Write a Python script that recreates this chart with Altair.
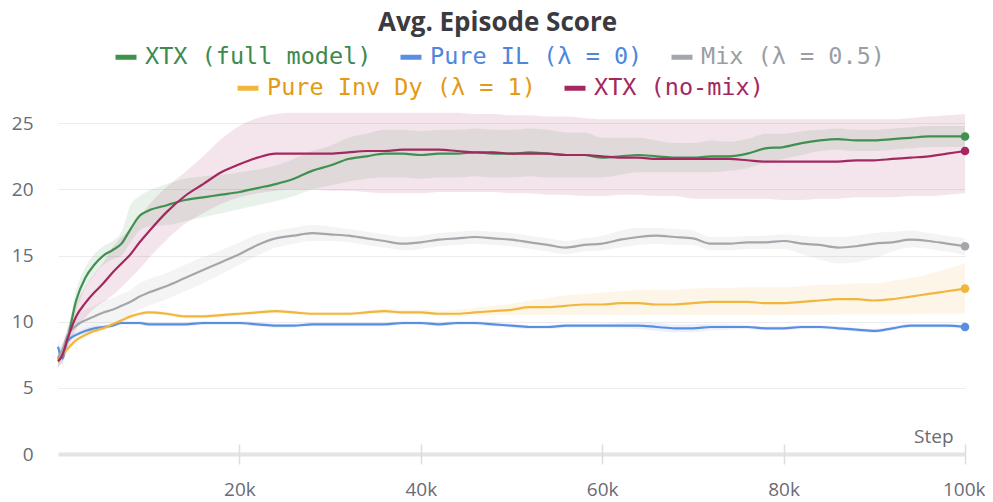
import altair as alt
import pandas as pd

# ---------------- data ----------------
steps_k = [0, 0.5, 1, 2, 3, 4, 5, 6, 7, 8, 9, 10,
           12, 14, 16, 18, 20, 22, 24, 26, 28, 30,
           32, 34, 36, 38, 40, 42, 44, 46, 48, 50,
           52, 54, 56, 58, 60, 62, 64, 66, 68, 70,
           72, 74, 76, 78, 80, 82, 84, 86, 88, 90,
           92, 94, 96, 98, 100]

series_names = ["XTX (full model)", "Pure IL (λ = 0)", "Mix (λ = 0.5)",
                "Pure Inv Dy (λ = 1)", "XTX (no-mix)"]
line_colors = ["#3f9150", "#5a8ee0", "#a3a7ab", "#efb73e", "#a3285f"]
label_colors = ["#3d8a50", "#4f86dc", "#9a9ea4", "#e39a14", "#a3285f"]

green_mean = [7.2, 7.8, 8.6, 11.6, 13.3, 14.3, 15.0, 15.4, 15.9, 17.0, 18.0, 18.4,
              18.8, 19.2, 19.4, 19.6, 19.8, 20.1, 20.4, 20.8, 21.4, 21.8,
              22.3, 22.5, 22.7, 22.7, 22.6, 22.7, 22.7, 22.8, 22.7, 22.7,
              22.8, 22.7, 22.6, 22.6, 22.4, 22.5, 22.6, 22.5, 22.4, 22.4,
              22.5, 22.5, 22.7, 23.1, 23.2, 23.5, 23.7, 23.8, 23.7, 23.7,
              23.8, 23.9, 24.0, 24.0, 24.0]
green_lo = [6.6, 7.3, 8.0, 10.8, 12.5, 13.5, 14.3, 14.7, 15.0, 16.0, 16.9, 17.2,
            17.3, 17.6, 17.9, 18.2, 18.5, 18.8, 19.1, 19.5, 20.0, 20.3,
            20.6, 20.8, 20.9, 20.9, 20.8, 20.9, 20.9, 21.0, 20.9, 20.9,
            21.0, 20.9, 20.9, 20.9, 20.9, 21.1, 21.3, 21.3, 21.3, 21.3,
            21.3, 21.4, 21.6, 22.0, 22.3, 22.6, 22.9, 23.0, 22.9, 22.9,
            23.0, 23.1, 23.2, 23.2, 23.2]
green_hi = [7.8, 8.3, 9.2, 12.4, 14.1, 15.1, 15.7, 16.1, 16.8, 18.8, 19.5, 19.9,
            20.4, 20.8, 21.0, 21.1, 21.3, 21.5, 21.8, 22.3, 22.9, 23.3,
            23.9, 24.2, 24.5, 24.5, 24.4, 24.5, 24.5, 24.6, 24.5, 24.5,
            24.6, 24.5, 24.3, 24.3, 23.9, 23.9, 23.9, 23.7, 23.5, 23.5,
            23.7, 23.6, 23.8, 24.2, 24.2, 24.4, 24.5, 24.6, 24.5, 24.5,
            24.6, 24.7, 24.8, 24.8, 24.8]

blue_mean = [8.1, 7.2, 8.5, 9.0, 9.3, 9.5, 9.6, 9.7, 9.9, 9.9, 9.9, 9.8,
             9.8, 9.8, 9.9, 9.9, 9.9, 9.8, 9.7, 9.7, 9.8, 9.8,
             9.8, 9.8, 9.8, 9.9, 9.9, 9.8, 9.9, 9.9, 9.8, 9.7,
             9.6, 9.6, 9.7, 9.7, 9.7, 9.7, 9.7, 9.6, 9.5, 9.5,
             9.6, 9.6, 9.6, 9.5, 9.5, 9.6, 9.6, 9.5, 9.4, 9.3,
             9.5, 9.7, 9.7, 9.7, 9.6]
blue_lo = [7.6, 6.7, 8.1, 8.8, 9.1, 9.3, 9.45, 9.55, 9.75, 9.75, 9.75, 9.65,
           9.65, 9.65, 9.75, 9.75, 9.75, 9.65, 9.55, 9.55, 9.65, 9.65,
           9.65, 9.65, 9.65, 9.75, 9.75, 9.65, 9.75, 9.75, 9.65, 9.55,
           9.45, 9.45, 9.55, 9.55, 9.55, 9.5, 9.45, 9.3, 9.2, 9.2,
           9.35, 9.4, 9.45, 9.35, 9.35, 9.45, 9.45, 9.35, 9.25, 9.15,
           9.35, 9.55, 9.55, 9.55, 9.45]
blue_hi = [8.6, 7.7, 8.9, 9.2, 9.5, 9.7, 9.75, 9.85, 10.05, 10.05, 10.05, 9.95,
           9.95, 9.95, 10.05, 10.05, 10.05, 9.95, 9.85, 9.85, 9.95, 9.95,
           9.95, 9.95, 9.95, 10.05, 10.05, 9.95, 10.05, 10.05, 9.95, 9.85,
           9.75, 9.75, 9.85, 9.85, 9.85, 9.9, 9.95, 9.9, 9.8, 9.8,
           9.85, 9.8, 9.75, 9.65, 9.65, 9.75, 9.75, 9.65, 9.55, 9.45,
           9.65, 9.85, 9.85, 9.85, 9.75]

gray_mean = [7.3, 7.9, 8.9, 9.7, 10.1, 10.4, 10.7, 10.9, 11.2, 11.5, 11.9, 12.2,
             12.7, 13.3, 13.9, 14.5, 15.1, 15.8, 16.3, 16.5, 16.7, 16.6,
             16.5, 16.3, 16.1, 15.9, 16.0, 16.2, 16.3, 16.4, 16.3, 16.2,
             16.0, 15.8, 15.6, 15.8, 15.9, 16.2, 16.4, 16.5, 16.4, 16.3,
             15.9, 15.9, 16.0, 16.0, 16.1, 15.9, 15.8, 15.6, 15.7, 15.9,
             16.0, 16.2, 16.1, 15.9, 15.7]
gray_lo = [6.8, 7.4, 8.3, 9.0, 9.3, 9.6, 9.8, 10.0, 10.3, 10.6, 10.9, 11.2,
           11.7, 12.3, 12.9, 13.6, 14.3, 15.0, 15.6, 15.9, 16.1, 16.1,
           16.0, 15.8, 15.6, 15.4, 15.5, 15.7, 15.8, 15.9, 15.8, 15.7,
           15.5, 15.3, 15.1, 15.3, 15.4, 15.6, 15.8, 15.9, 15.8, 15.8,
           15.4, 15.4, 15.5, 15.5, 15.5, 15.1, 14.7, 14.4, 14.5, 14.8,
           15.3, 15.6, 15.5, 15.3, 15.0]
gray_hi = [7.8, 8.4, 9.5, 10.4, 10.9, 11.2, 11.6, 11.8, 12.1, 12.4, 12.9, 13.2,
           13.7, 14.3, 14.9, 15.4, 16.0, 16.6, 16.9, 17.1, 17.3, 17.2,
           17.0, 16.8, 16.6, 16.4, 16.5, 16.7, 16.8, 16.9, 16.8, 16.7,
           16.5, 16.3, 16.1, 16.3, 16.5, 16.9, 17.1, 17.1, 17.0, 16.9,
           16.4, 16.4, 16.5, 16.5, 16.6, 16.5, 16.4, 16.4, 16.5, 16.7,
           16.8, 16.9, 16.7, 16.5, 16.3]

yellow_mean = [7.1, 7.5, 7.9, 8.6, 9.0, 9.3, 9.5, 9.8, 10.1, 10.4, 10.6, 10.7,
               10.6, 10.4, 10.4, 10.5, 10.6, 10.7, 10.8, 10.7, 10.6, 10.6,
               10.6, 10.7, 10.8, 10.7, 10.7, 10.6, 10.6, 10.7, 10.8, 10.9,
               11.1, 11.1, 11.2, 11.3, 11.3, 11.4, 11.4, 11.3, 11.3, 11.4,
               11.5, 11.5, 11.5, 11.4, 11.4, 11.5, 11.6, 11.7, 11.7, 11.6,
               11.7, 11.9, 12.1, 12.3, 12.5]
yellow_lo = [6.6, 7.1, 7.6, 8.4, 8.8, 9.1, 9.3, 9.6, 9.9, 10.2, 10.45, 10.55,
             10.45, 10.25, 10.25, 10.35, 10.45, 10.55, 10.65, 10.55, 10.45, 10.45,
             10.45, 10.55, 10.6, 10.55, 10.55, 10.45, 10.4, 10.45, 10.5, 10.5,
             10.5, 10.5, 10.5, 10.5, 10.5, 10.5, 10.5, 10.5, 10.5, 10.5,
             10.5, 10.5, 10.5, 10.5, 10.5, 10.5, 10.5, 10.55, 10.55, 10.55,
             10.55, 10.55, 10.6, 10.6, 10.6]
yellow_hi = [7.6, 7.9, 8.2, 8.8, 9.2, 9.5, 9.7, 10.0, 10.3, 10.6, 10.75, 10.85,
             10.75, 10.55, 10.55, 10.65, 10.75, 10.85, 10.95, 10.85, 10.75, 10.75,
             10.75, 10.85, 11.0, 10.9, 10.9, 10.85, 10.9, 11.05, 11.2, 11.35,
             11.6, 11.8, 12.0, 12.1, 12.2, 12.3, 12.4, 12.4, 12.4, 12.5,
             12.55, 12.55, 12.6, 12.6, 12.6, 12.7, 12.8, 12.8, 12.9, 12.9,
             13.1, 13.3, 13.6, 14.0, 14.4]

mag_mean = [7.0, 7.5, 8.6, 10.4, 11.4, 12.2, 12.9, 13.7, 14.4, 15.1, 16.0, 16.8,
            18.3, 19.5, 20.4, 21.3, 21.9, 22.4, 22.7, 22.7, 22.7, 22.7,
            22.8, 22.9, 22.9, 23.0, 23.0, 23.0, 22.9, 22.8, 22.8, 22.7,
            22.7, 22.7, 22.6, 22.6, 22.5, 22.4, 22.4, 22.3, 22.3, 22.3,
            22.3, 22.3, 22.2, 22.1, 22.1, 22.1, 22.1, 22.1, 22.2, 22.2,
            22.3, 22.4, 22.5, 22.7, 22.9]
mag_lo = [6.5, 7.0, 7.9, 9.4, 10.3, 11.0, 11.5, 12.0, 12.6, 13.3, 14.0, 14.8,
          16.2, 17.4, 18.2, 18.9, 19.4, 19.7, 19.9, 20.0, 20.0, 19.9,
          19.9, 19.8, 19.7, 19.7, 19.7, 19.8, 19.8, 19.8, 19.8, 19.7,
          19.7, 19.6, 19.6, 19.5, 19.5, 19.6, 19.6, 19.5, 19.5, 19.3,
          19.3, 19.3, 19.3, 19.3, 19.2, 19.2, 19.3, 19.3, 19.4, 19.4,
          19.4, 19.5, 19.5, 19.6, 19.7]
mag_hi = [7.5, 8.0, 9.3, 11.4, 12.6, 13.6, 14.5, 15.6, 16.4, 17.0, 17.9, 18.8,
          20.2, 21.3, 22.5, 23.8, 24.8, 25.4, 25.7, 25.8, 25.8, 25.8,
          25.8, 25.8, 25.8, 25.8, 25.8, 25.8, 25.8, 25.7, 25.7, 25.6,
          25.6, 25.5, 25.5, 25.4, 25.3, 25.3, 25.3, 25.3, 25.3, 25.3,
          25.3, 25.3, 25.3, 25.3, 25.3, 25.3, 25.3, 25.3, 25.3, 25.3,
          25.3, 25.4, 25.5, 25.6, 25.7]

x_tick_values = [20000, 40000, 60000, 80000, 100000]
y_tick_values = [0, 5, 10, 15, 20, 25]

# ---------------- table ----------------
all_mean = [green_mean, blue_mean, gray_mean, yellow_mean, mag_mean]
all_lo = [green_lo, blue_lo, gray_lo, yellow_lo, mag_lo]
all_hi = [green_hi, blue_hi, gray_hi, yellow_hi, mag_hi]
rows = []
for name, m, lo, hi in zip(series_names, all_mean, all_lo, all_hi):
    for s, a, b, c in zip(steps_k, m, lo, hi):
        rows.append({"step": s * 1000, "series": name, "value": a, "lo": b, "hi": c})
df = pd.DataFrame(rows)

group_a = series_names[:3]
group_b = series_names[3:]

label_expr = " : ".join(
    f"datum.value === '{n}' ? '{c}'" for n, c in zip(series_names, label_colors)
) + " : '#666666'"

FONT = "Open Sans"
AXIS_COLOR = "#6b6b76"

x_enc = alt.X(
    "step:Q",
    scale=alt.Scale(domain=[0, 100000], nice=False, zero=False),
    axis=alt.Axis(
        values=x_tick_values, format="~s", labelFlush=True, labelFlushOffset=20,
        labelOverlap=False,
        labelFont=FONT, labelFontSize=19, labelColor=AXIS_COLOR, labelPadding=16,
        domain=False, grid=False, ticks=True, tickSize=20, tickColor="#dddddd",
        tickWidth=1.5, offset=-10,
        title="Step", titleFont=FONT, titleFontSize=19, titleFontWeight="normal",
        titleColor=AXIS_COLOR, titleAnchor="end", titleAlign="right",
        titleBaseline="alphabetic", titleX=895, titleY=-2,
    ),
)
y_scale = alt.Scale(domain=[0, 26], nice=False, zero=True)
y_axis = alt.Axis(
    values=y_tick_values, domain=False, ticks=False, tickSize=0, labelPadding=25,
    labelFont=FONT, labelFontSize=19, labelColor=AXIS_COLOR, title=None,
    grid=True,
    gridColor={"condition": {"test": "datum.value === 0", "value": "#e4e4e4"}, "value": "#ececec"},
    gridWidth={"condition": {"test": "datum.value === 0", "value": 4}, "value": 1},
)

fill_scale = alt.Scale(domain=series_names, range=line_colors)

bands = alt.Chart(df).mark_area(opacity=0.12, interpolate="monotone").encode(
    x=x_enc,
    y=alt.Y("lo:Q", scale=y_scale, axis=y_axis),
    y2="hi:Q",
    fill=alt.Fill("series:N", scale=fill_scale, legend=None),
    detail="series:N",
)


def legend(x, y):
    return alt.Legend(
        title=None, orient="none", direction="horizontal", legendX=x, legendY=y,
        labelFont="DejaVu Sans Mono", labelFontSize=23.5, labelLimit=0,
        labelColor={"expr": label_expr},
        symbolType="stroke", symbolStrokeWidth=5, symbolSize=441,
        labelOffset=6, columnPadding=18,
    )


def lines_for(group, lx, ly):
    sub = df[df["series"].isin(group)]
    cols = [line_colors[series_names.index(n)] for n in group]
    return alt.Chart(sub).mark_line(strokeWidth=2.2, interpolate="monotone").encode(
        x=x_enc,
        y=alt.Y("value:Q", scale=y_scale, axis=y_axis),
        color=alt.Color("series:N", scale=alt.Scale(domain=group, range=cols),
                        sort=group, legend=legend(lx, ly)),
    )


lines_a = lines_for(group_a, 55, -66)
lines_b = lines_for(group_b, 177, -35)

points = alt.Chart(df[df["step"] == 100000]).mark_circle(size=75, opacity=1).encode(
    x=x_enc,
    y=alt.Y("value:Q", scale=y_scale, axis=y_axis),
    fill=alt.Fill("series:N", scale=fill_scale, legend=None),
)

chart = alt.layer(bands, lines_a, lines_b, points).resolve_scale(
    color="independent"
).properties(
    width=907,
    height=344,
    autosize=alt.AutoSizeParams(type="none"),
    padding={"left": 50, "top": 102, "right": 20, "bottom": 48},
    title=alt.TitleParams(
        "Avg. Episode Score", font=FONT, fontSize=26, fontWeight="bold",
        color="#3a3a40", anchor="middle", dx=-14, dy=-4,
    ),
).configure_view(stroke=None)

chart.save("out.html", embed_options={"renderer": "svg", "actions": False})
